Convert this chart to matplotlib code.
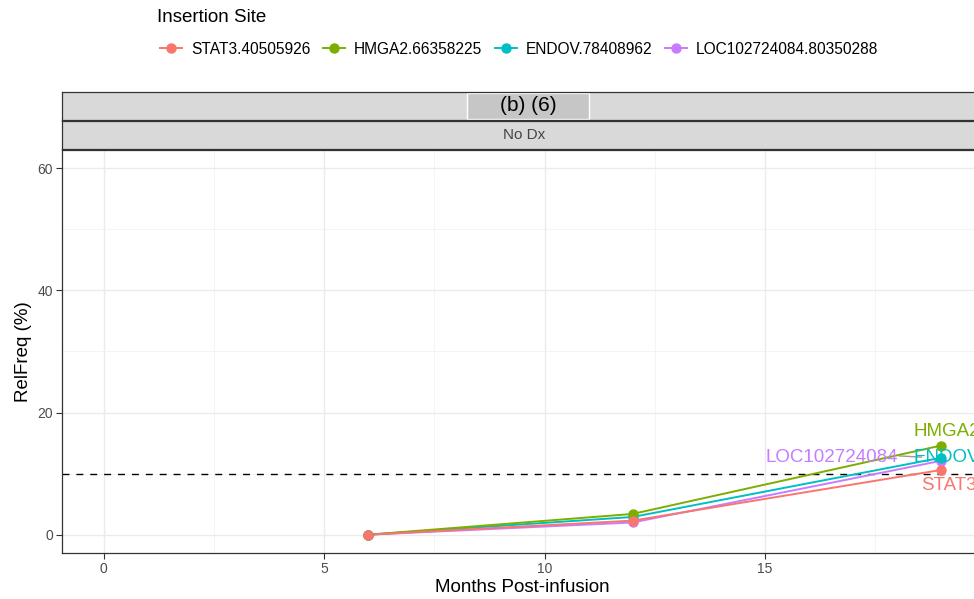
import matplotlib
matplotlib.use("Agg")
import matplotlib.pyplot as plt
from matplotlib.lines import Line2D
from matplotlib.patches import Rectangle

plt.rcParams['font.family'] = ['Liberation Sans', 'DejaVu Sans']

# relative frequency (%) of each insertion site by month post-infusion
months = [6, 12, 19]
sites = ["STAT3.40505926", "HMGA2.66358225", "ENDOV.78408962", "LOC102724084.80350288"]
genes = ["STAT3", "HMGA2", "ENDOV", "LOC102724084"]
stat3 = [0.0, 2.3, 10.6]
hmga2 = [0.0, 3.4, 14.6]
endov = [0.0, 2.9, 12.6]
loc = [0.0, 2.0, 12.1]
threshold = 10

colors = ["#F8766D", "#7CAE00", "#00BFC4", "#C77CFF"]
series = [stat3, hmga2, endov, loc]

fig = plt.figure(figsize=(9.74, 5.99), dpi=100)
W, H = 974, 599

def box(x0, y0, x1, y1):
    return [x0 / W, 1 - y1 / H, (x1 - x0) / W, (y1 - y0) / H]

ax = fig.add_axes(box(62, 150, 983, 553))
ax.set_xlim(-0.95, 19.95)
ax.set_ylim(-3, 63)

ax.set_xticks([0, 5, 10, 15])
ax.set_xticks([2.5, 7.5, 12.5, 17.5], minor=True)
ax.set_yticks([0, 20, 40, 60])
ax.set_yticks([10, 30, 50], minor=True)
ax.grid(which='major', color='#EBEBEB', linewidth=1.0)
ax.grid(which='minor', color='#F2F2F2', linewidth=0.6)
ax.set_axisbelow(True)
ax.tick_params(which='major', length=4.3, color='#333333', width=0.8,
               labelsize=10, labelcolor='#4D4D4D', pad=2)
ax.tick_params(which='minor', length=0)
for sp in ax.spines.values():
    sp.set_color('#333333')
    sp.set_linewidth(0.9)

ax.axhline(threshold, color='black', linestyle=(0, (5, 5)), linewidth=1.0, zorder=1)

# draw in reverse so STAT3 sits on top where points overlap
for name, vals, c in reversed(list(zip(sites, series, colors))):
    ax.plot(months, vals, color=c, linewidth=1.4, zorder=2)
    ax.plot(months, vals, 'o', color=c, markersize=6.5, zorder=3)

# repelled labels at the last timepoint
lab_kw = dict(fontsize=13.5, va='center', clip_on=False, zorder=4)
ax.text(18.37, 16.9, genes[1], color=colors[1], ha='left', **lab_kw)
ax.text(18.37, 12.6, genes[2], color=colors[2], ha='left', **lab_kw)
ax.text(18.55, 8.1, genes[0], color=colors[0], ha='left', **lab_kw)
ax.text(18.03, 12.7, genes[3], color=colors[3], ha='right', **lab_kw)
ax.plot([18.05, 18.55], [12.9, 12.7], color='#999999', linewidth=1.0, zorder=3)

ax.set_xlabel("Months Post-infusion", fontsize=13.5, labelpad=2)
ax.set_ylabel("RelFreq (%)", fontsize=13.5, labelpad=4)

# facet strips
for y0, y1 in [(92, 120), (121, 149)]:
    sax = fig.add_axes(box(62, y0, 983, y1))
    sax.set_facecolor('#D9D9D9')
    sax.set_xticks([])
    sax.set_yticks([])
    for sp in sax.spines.values():
        sp.set_color('#333333')
        sp.set_linewidth(0.9)
    if y0 == 92:
        sax.add_patch(Rectangle((405 / 921, 0.04), 122 / 921, 0.92,
                                transform=sax.transAxes, facecolor='#C6C6C6',
                                edgecolor='white', linewidth=1.0))
        sax.text(466 / 921, 0.52, "(b) (6)", transform=sax.transAxes,
                 ha='center', va='center', fontsize=15, color='black')
    else:
        sax.text(462 / 921, 0.5, "No Dx", transform=sax.transAxes,
                 ha='center', va='center', fontsize=11, color='#444444')

# legend on top: title line, then one row of keys
fig.text(157 / W, 1 - 17 / H, "Insertion Site", fontsize=13.5, ha='left', va='center')
handles = [Line2D([], [], color=c, marker='o', markersize=6.5, linewidth=1.4)
           for c in colors]
leg = fig.legend(handles, sites, loc='center left', bbox_to_anchor=(152 / W, 1 - 49 / H),
                 ncol=4, frameon=False, fontsize=11.2, handlelength=1.45, borderpad=0,
                 handletextpad=0.55, columnspacing=0.8)

fig.savefig("out.png", dpi=100)
